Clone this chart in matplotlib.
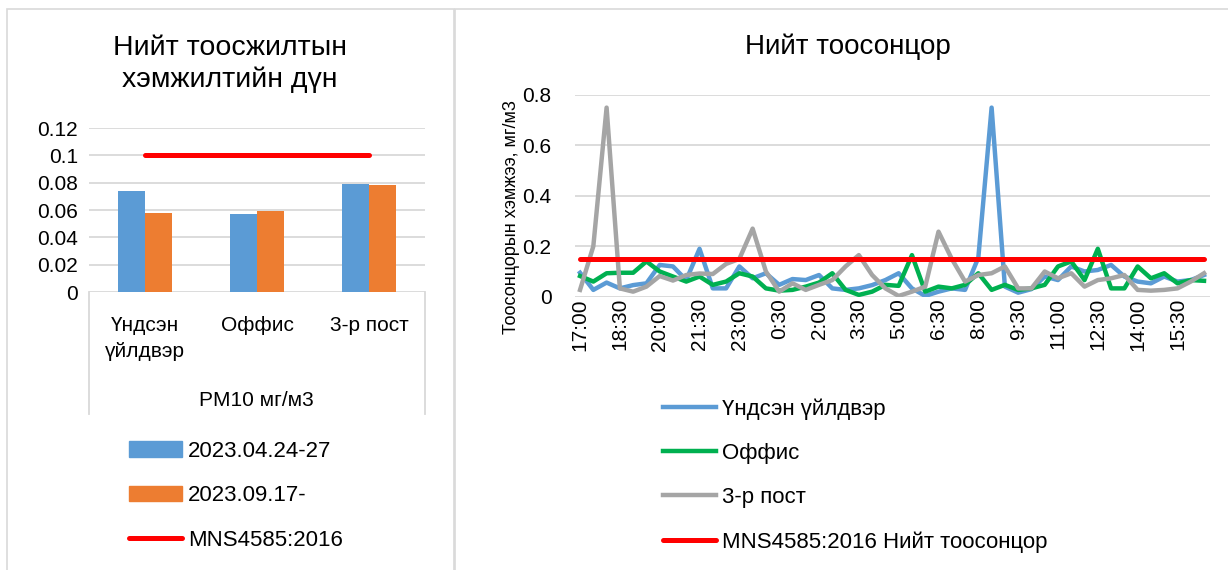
import matplotlib
matplotlib.use('Agg')
import matplotlib.pyplot as plt
from matplotlib.lines import Line2D
from matplotlib.patches import Patch, Rectangle

plt.rcParams['font.family'] = ['Liberation Sans', 'DejaVu Sans']

W, H = 1228, 570

# left chart data
sites = ['Үндсэн\nүйлдвэр', 'Оффис', '3-р пост']
spring = [0.074, 0.057, 0.079]
autumn = [0.058, 0.059, 0.078]
mns_left = [0.1, 0.1, 0.1]
left_yticks = [0, 0.02, 0.04, 0.06, 0.08, 0.1, 0.12]

# right chart data (every 30 min, 17:00 ... 16:30)
main_plant = [0.095, 0.027, 0.056, 0.033, 0.046, 0.053, 0.126, 0.12, 0.066, 0.19,
              0.033, 0.033, 0.12, 0.073, 0.093, 0.047, 0.07, 0.066, 0.086, 0.033,
              0.027, 0.033, 0.046, 0.066, 0.093, 0.033, 0.003, 0.02, 0.033, 0.027,
              0.155, 0.75, 0.04, 0.016, 0.03, 0.08, 0.066, 0.12, 0.1, 0.106,
              0.126, 0.08, 0.06, 0.053, 0.08, 0.06, 0.066, 0.086]
office = [0.082, 0.06, 0.093, 0.095, 0.095, 0.14, 0.1, 0.08, 0.06, 0.08,
          0.047, 0.06, 0.093, 0.08, 0.033, 0.024, 0.027, 0.04, 0.056, 0.093,
          0.027, 0.007, 0.02, 0.047, 0.043, 0.165, 0.02, 0.04, 0.033, 0.047,
          0.093, 0.027, 0.047, 0.027, 0.033, 0.047, 0.12, 0.14, 0.066, 0.19,
          0.033, 0.033, 0.12, 0.073, 0.093, 0.053, 0.066, 0.063]
post3 = [0.027, 0.2, 0.75, 0.033, 0.02, 0.04, 0.082, 0.064, 0.086, 0.092,
         0.09, 0.13, 0.15, 0.27, 0.1, 0.02, 0.053, 0.027, 0.047, 0.066,
         0.12, 0.165, 0.086, 0.033, 0.003, 0.02, 0.04, 0.258, 0.15, 0.06,
         0.086, 0.093, 0.12, 0.033, 0.033, 0.1, 0.073, 0.093, 0.04, 0.066,
         0.073, 0.086, 0.027, 0.024, 0.027, 0.033, 0.06, 0.093]
mns_total = 0.15
time_labels = ['17:00', '18:30', '20:00', '21:30', '23:00', '0:30', '2:00', '3:30',
               '5:00', '6:30', '8:00', '9:30', '11:00', '12:30', '14:00', '15:30']
right_yticks = [0, 0.2, 0.4, 0.6, 0.8]

BLUE = '#5B9BD5'
ORANGE = '#ED7D31'
GREEN = '#00B050'
GRAY = '#A5A5A5'
RED = '#FF0000'
GRID = '#D9D9D9'


def box(x0, y0, x1, y1):
    # pixel box -> figure fractions
    return [x0 / W, 1 - y1 / H, (x1 - x0) / W, (y1 - y0) / H]


def fline(xs, ys, **kw):
    fig.add_artist(Line2D([x / W for x in xs], [1 - y / H for y in ys],
                          transform=fig.transFigure, **kw))


fig = plt.figure(figsize=(W / 100, H / 100), dpi=100)

# chart frames
fig.add_artist(Rectangle((7 / W, -0.05), (454 - 7) / W, 1.05 - 9 / H,
                         transform=fig.transFigure, fill=False, ec=GRID, lw=1.2))
fig.add_artist(Rectangle((455 / W, -0.05), 1.0, 1.05 - 9 / H,
                         transform=fig.transFigure, fill=False, ec=GRID, lw=1.2))

# ---------- left chart ----------
ax1 = fig.add_axes(box(89, 128, 425, 292))
x = range(len(sites))
w = 0.238
ax1.bar([i - w / 2 for i in x], spring, w, color=BLUE, zorder=2)
ax1.bar([i + w / 2 for i in x], autumn, w, color=ORANGE, zorder=2)
ax1.plot(x, mns_left, color=RED, lw=3.6, solid_capstyle='round', zorder=3)
ax1.set_xlim(-0.5, 2.5)
ax1.set_ylim(0, 0.12)
ax1.set_yticks(left_yticks, ['0', '0.02', '0.04', '0.06', '0.08', '0.1', '0.12'])
ax1.set_xticks(list(x), sites)
ax1.tick_params(length=0, labelsize=15)
ax1.tick_params(axis='y', pad=8)
ax1.tick_params(axis='x', pad=17)
for lab in ax1.get_xticklabels():
    lab.set_linespacing(1.5)
ax1.grid(axis='y', color=GRID, lw=1.3, zorder=0)
for s in ax1.spines.values():
    s.set_visible(False)
fig.text(256 / W, 1 - 400 / H, 'PM10 мг/м3', ha='center', va='center', fontsize=15)
fline([89, 89], [292, 414], color=GRID, lw=1.3)
fline([425, 425], [292, 414], color=GRID, lw=1.3)
fig.text(230 / W, 1 - 64 / H, 'Нийт тоосжилтын\nхэмжилтийн дүн', ha='center',
         va='center', fontsize=20.5, linespacing=1.3)

left_handles = [Patch(color=BLUE), Patch(color=ORANGE),
                Line2D([], [], color=RED, lw=3.6, solid_capstyle='round')]
fig.legend(left_handles, ['2023.04.24-27', '2023.09.17-', 'MNS4585:2016'],
           loc='upper left', bbox_to_anchor=(129 / W, 1 - 441 / H), frameon=False,
           fontsize=16, handlelength=2.4, handletextpad=0.25, labelspacing=1.05,
           borderpad=0, borderaxespad=0)

# ---------- right chart ----------
ax2 = fig.add_axes(box(575, 95, 1210, 296.7))
t = range(len(main_plant))
ax2.plot(t, main_plant, color=BLUE, lw=3.2, solid_joinstyle='round', label='Үндсэн үйлдвэр')
ax2.plot(t, office, color=GREEN, lw=3.2, solid_joinstyle='round', label='Оффис')
ax2.plot(t, post3, color=GRAY, lw=3.2, solid_joinstyle='round', label='3-р пост')
ax2.plot(t, [mns_total] * len(main_plant), color=RED, lw=3.6, solid_capstyle='round',
         label='MNS4585:2016 Нийт тоосонцор')
ax2.set_xlim(-0.38, 47.45)
ax2.set_ylim(0, 0.8)
ax2.set_yticks(right_yticks, ['0', '0.2', '0.4', '0.6', '0.8'])
ax2.set_xticks(range(0, len(main_plant), 3), time_labels, rotation=90)
ax2.tick_params(length=0, labelsize=15)
ax2.tick_params(axis='y', pad=17)
ax2.tick_params(axis='x', pad=1)
ax2.grid(axis='y', color=GRID, lw=1.3, zorder=0)
for s in ax2.spines.values():
    s.set_visible(False)
fig.text(511 / W, 1 - 217 / H, 'Тоосонцорын хэмжээ, мг/м3', rotation=90,
         ha='center', va='center', fontsize=13)
fig.text(848 / W, 1 - 47 / H, 'Нийт тоосонцор', ha='center', va='center', fontsize=20)
fig.legend(*ax2.get_legend_handles_labels(), loc='upper left',
           bbox_to_anchor=(663 / W, 1 - 398 / H), frameon=False, fontsize=16,
           handlelength=2.4, handletextpad=0.25, labelspacing=1.05,
           borderpad=0, borderaxespad=0)

fig.savefig('out.png', dpi=100)
